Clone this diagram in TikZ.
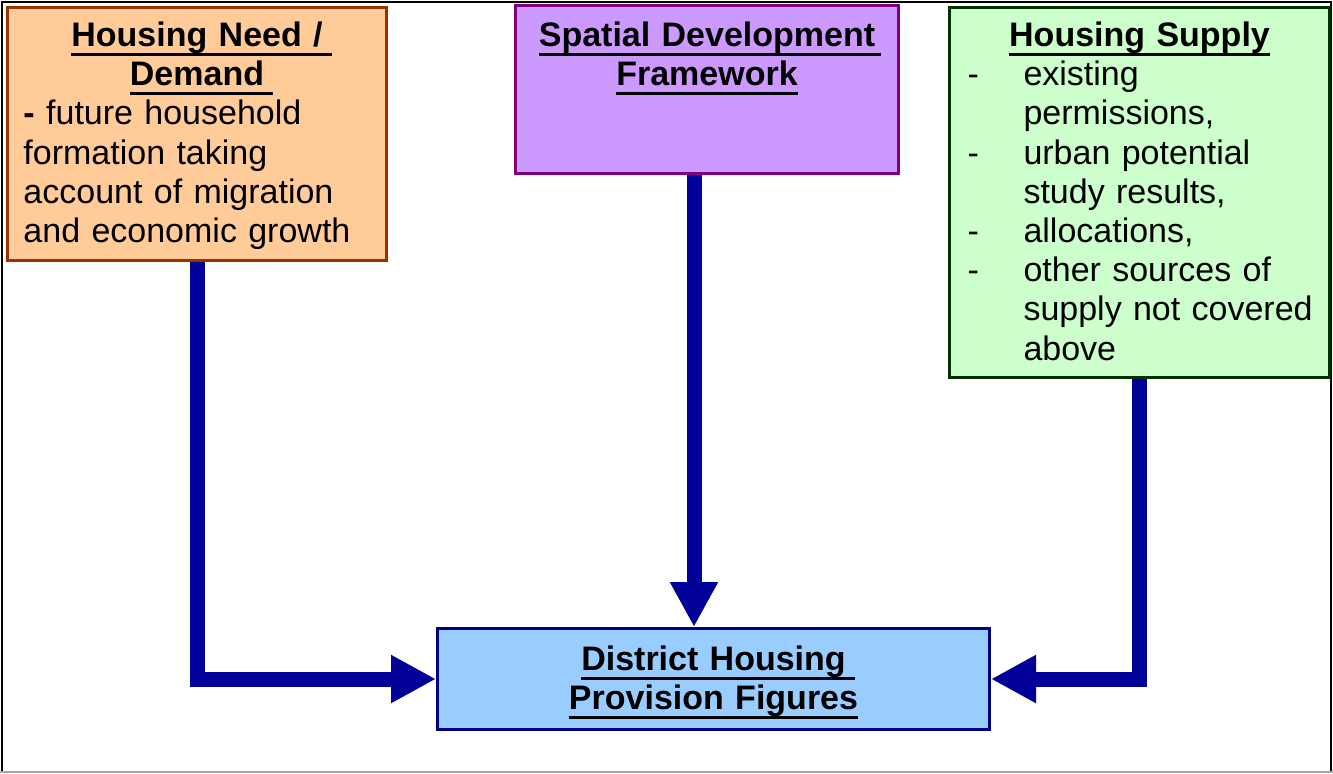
\documentclass[tikz,border=0pt]{standalone}
\usepackage{fontspec}
\setmainfont{Liberation Sans}
\usetikzlibrary{arrows.meta}

\definecolor{needfill}{HTML}{FFCC99}
\definecolor{needline}{HTML}{993300}
\definecolor{planfill}{HTML}{CC99FF}
\definecolor{planline}{HTML}{800080}
\definecolor{supplyfill}{HTML}{CCFFCC}
\definecolor{supplyline}{HTML}{003300}
\definecolor{resultfill}{HTML}{99CCFF}
\definecolor{resultline}{HTML}{000080}
\definecolor{flowblue}{HTML}{000099}

% underlined heading line (optional extra underline length)
\newsavebox\titlebox
\newcommand{\boxtitle}[2][0pt]{%
  \sbox\titlebox{#2}%
  \rlap{\vrule height -3.2pt depth 4.6pt width \dimexpr\wd\titlebox+#1\relax}%
  \usebox\titlebox}
\newcommand{\titlerow}[2][0pt]{\makebox[\linewidth]{\bfseries\boxtitle[#1]{#2}}}
\newcommand{\dashrow}[1]{\mbox{\makebox[28pt][l]{-}#1}}
\newcommand{\controw}[1]{\mbox{\hspace*{28pt}#1}}

\begin{document}
\begin{tikzpicture}[
  % Coordinates in pixels of the page, y grows downwards
  x=0.5pt, y=-0.5pt,
  % Common box style
  every node/.style={draw, rectangle, line width=1.5pt, anchor=north west,
    inner xsep=8pt, inner ysep=0pt, align=left,
    font=\fontsize{17}{19.6}\selectfont},
  % Box colours and sizes
  needbox/.style={fill=needfill, draw=needline, text width=173.5pt,
    text height=19.5pt, text depth=107pt},
  planbox/.style={fill=planfill, draw=planline, text width=175.5pt,
    text height=20.5pt, text depth=63.5pt},
  supplybox/.style={fill=supplyfill, draw=supplyline, inner xsep=9pt,
    text width=172pt, text height=19.5pt, text depth=165.5pt},
  resultbox/.style={fill=resultfill, draw=resultline, text width=260pt,
    text height=21pt, text depth=29.5pt},
  % Thick blue arrows
  flow/.style={draw=flowblue, line width=7.5pt,
    -{Triangle[length=22.5pt,width=22.5pt]}}
]
  \useasboundingbox (0,0) rectangle (1333,773);

  % Page frame
  \draw[line width=0.75pt] (2,772) -- (2,2) -- (1331,2) -- (1331,772);
  \draw[line width=0.75pt, black!35] (0,772) -- (1333,772);

  % Boxes
  \node[needbox] (need) at (6,6) {%
    \titlerow[4.7pt]{Housing Need /}\\
    \titlerow[4.7pt]{Demand}\\
    \textbf{-} future household\\
    formation taking\\
    account of migration\\
    and economic growth};
  \node[planbox] (plan) at (514,4) {%
    \titlerow[3pt]{Spatial Development}\\
    \titlerow{Framework}};
  \node[supplybox] (supply) at (948,6) {%
    \titlerow{Housing Supply}\\
    \dashrow{existing}\\
    \controw{permissions,}\\
    \dashrow{urban potential}\\
    \controw{study results,}\\
    \dashrow{allocations,}\\
    \dashrow{other sources of}\\
    \controw{supply not covered}\\
    \controw{above}};
  \node[resultbox] (district) at (436,627) {%
    \titlerow[4.7pt]{District Housing}\\
    \titlerow{Provision Figures}};

  % Arrows into the result box
  \draw[flow] (need.south) |- (district.west);
  \draw[flow] ([xshift=-6.5pt]plan.south) -- ([xshift=-6.5pt]plan.south |- district.north);
  \draw[flow] (supply.south) |- (district.east);
\end{tikzpicture}
\end{document}
